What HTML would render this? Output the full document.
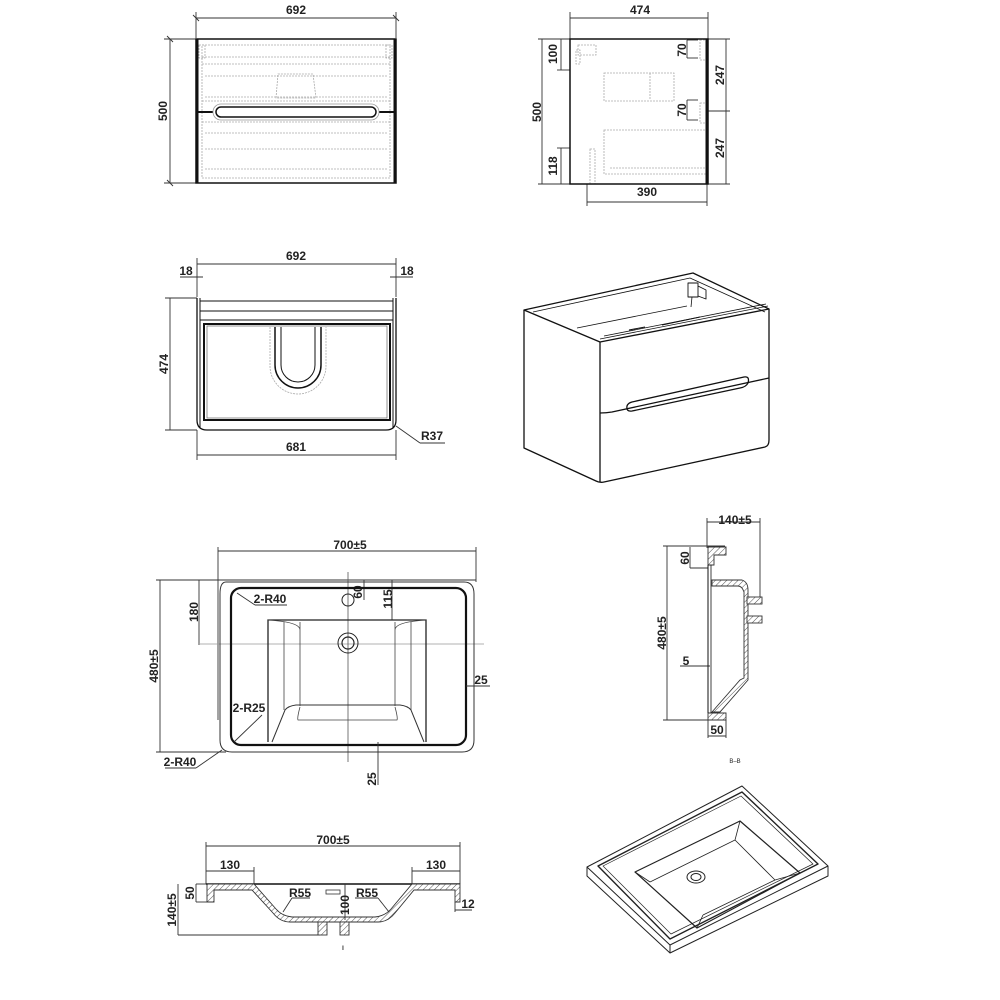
<!DOCTYPE html>
<html><head><meta charset="utf-8"><style>
html,body{margin:0;padding:0;background:#fff}
svg{display:block}
text{font-family:"Liberation Sans",sans-serif;font-weight:bold;font-size:12px;fill:#222}
.d{stroke:#333;stroke-width:0.9;fill:none}
.k{stroke:#111;fill:none}
.g{stroke:#aaa;stroke-width:0.8;fill:none;stroke-dasharray:2 1}
.h{stroke:#333;stroke-width:0.9;fill:url(#hat)}
</style></head><body>
<svg width="1000" height="1000" viewBox="0 0 1000 1000" xmlns="http://www.w3.org/2000/svg">
<defs><pattern id="hat" width="4" height="4" patternUnits="userSpaceOnUse" patternTransform="rotate(45)"><rect width="4" height="4" fill="#fff"/><line x1="0" y1="0" x2="0" y2="4" stroke="#555" stroke-width="1"/></pattern></defs>

<!-- VIEW 1 front -->
<g>
<line class="d" x1="196" y1="18" x2="396" y2="18"/><line class="d" x1="196" y1="12" x2="196" y2="38"/><line class="d" x1="396" y1="12" x2="396" y2="38"/>
<line class="d" x1="193" y1="15" x2="199" y2="21"/><line class="d" x1="393" y1="15" x2="399" y2="21"/>
<text x="296" y="14" text-anchor="middle">692</text>
<line class="d" x1="170" y1="39" x2="170" y2="183"/><line class="d" x1="164" y1="39" x2="196" y2="39"/><line class="d" x1="164" y1="183" x2="196" y2="183"/>
<line class="d" x1="167" y1="36" x2="173" y2="42"/><line class="d" x1="167" y1="180" x2="173" y2="186"/>
<text transform="translate(167,111) rotate(-90)" text-anchor="middle">500</text>
<rect class="g" x="202" y="45" width="188" height="133"/>
<line class="g" x1="202" y1="57" x2="390" y2="57"/><line class="g" x1="202" y1="64" x2="390" y2="64"/><line class="g" x1="205" y1="76" x2="387" y2="76"/><line class="g" x1="205" y1="97" x2="387" y2="97"/><line class="g" x1="202" y1="101" x2="390" y2="101"/>
<line class="g" x1="202" y1="122" x2="390" y2="122"/><line class="g" x1="205" y1="133" x2="387" y2="133"/><line class="g" x1="205" y1="149" x2="387" y2="149"/><line class="g" x1="205" y1="169" x2="387" y2="169"/>
<path class="g" d="M276 98 L278 74 L313 74 L316 98 Z"/><rect class="g" x="199" y="45" width="6" height="13"/><rect class="g" x="386" y="45" width="6" height="13"/>
<path d="M196 39 H396 V183 H196 Z" fill="none" stroke="#111" stroke-width="1.5"/>
<line x1="197" y1="39" x2="197" y2="183" stroke="#111" stroke-width="3"/><line x1="395" y1="39" x2="395" y2="183" stroke="#111" stroke-width="3"/>
<line x1="196" y1="112" x2="396" y2="112" stroke="#111" stroke-width="2"/>
<rect x="213" y="104" width="166" height="16" rx="8" fill="#fff" stroke="#999" stroke-width="0.8"/>
<rect x="216" y="107" width="160" height="10" rx="5" fill="#fff" stroke="#111" stroke-width="1.5"/>
</g>

<!-- VIEW 2 side -->
<g>
<line class="d" x1="570" y1="18" x2="708" y2="18"/><line class="d" x1="570" y1="12" x2="570" y2="39"/><line class="d" x1="708" y1="12" x2="708" y2="39"/>
<text x="640" y="14" text-anchor="middle">474</text>
<line class="d" x1="542" y1="39" x2="542" y2="184"/><line class="d" x1="538" y1="39" x2="570" y2="39"/><line class="d" x1="538" y1="184" x2="570" y2="184"/>
<text transform="translate(541,112) rotate(-90)" text-anchor="middle">500</text>
<line class="d" x1="561" y1="39" x2="561" y2="70"/><line class="d" x1="557" y1="70" x2="570" y2="70"/>
<text transform="translate(557,54) rotate(-90)" text-anchor="middle">100</text>
<line class="d" x1="561" y1="148" x2="561" y2="184"/><line class="d" x1="557" y1="148" x2="570" y2="148"/>
<text transform="translate(557,166) rotate(-90)" text-anchor="middle">118</text>
<line class="d" x1="587" y1="184" x2="587" y2="206"/><line class="d" x1="707" y1="184" x2="707" y2="206"/><line class="d" x1="587" y1="202" x2="707" y2="202"/>
<text x="647" y="196" text-anchor="middle">390</text>
<line class="d" x1="726" y1="39" x2="726" y2="184"/><line class="d" x1="708" y1="39" x2="730" y2="39"/><line class="d" x1="708" y1="111" x2="730" y2="111"/><line class="d" x1="708" y1="184" x2="730" y2="184"/>
<text transform="translate(724,75) rotate(-90)" text-anchor="middle">247</text>
<text transform="translate(724,148) rotate(-90)" text-anchor="middle">247</text>
<line class="d" x1="687" y1="40" x2="687" y2="58"/><line class="d" x1="687" y1="40" x2="698" y2="40"/><line class="d" x1="687" y1="58" x2="698" y2="58"/>
<text transform="translate(686,50) rotate(-90)" text-anchor="middle">70</text>
<line class="d" x1="687" y1="100" x2="687" y2="120"/><line class="d" x1="687" y1="100" x2="698" y2="100"/><line class="d" x1="687" y1="120" x2="698" y2="120"/>
<text transform="translate(686,110) rotate(-90)" text-anchor="middle">70</text>
<rect class="g" x="604" y="73" width="70" height="28"/><line class="g" x1="650" y1="73" x2="650" y2="99"/>
<rect class="g" x="604" y="130" width="104" height="44"/><line class="g" x1="610" y1="168" x2="708" y2="168"/>
<rect class="g" x="590" y="149" width="5" height="35"/><rect class="g" x="700" y="40" width="6" height="20"/><rect class="g" x="700" y="103" width="6" height="20"/>
<rect class="g" x="578" y="45" width="18" height="10"/><rect class="g" x="576" y="50" width="4" height="14"/>
<rect x="570" y="39" width="138" height="145" fill="none" stroke="#111" stroke-width="1.5"/>
<line x1="707" y1="39" x2="707" y2="184" stroke="#111" stroke-width="3"/>
</g>

<!-- VIEW 3 top -->
<g>
<line class="d" x1="197" y1="264" x2="396" y2="264"/><line class="d" x1="197" y1="258" x2="197" y2="297"/><line class="d" x1="396" y1="258" x2="396" y2="297"/>
<text x="296" y="260" text-anchor="middle">692</text>
<line class="d" x1="180" y1="277" x2="203" y2="277"/><line class="d" x1="390" y1="277" x2="413" y2="277"/>
<text x="186" y="275" text-anchor="middle">18</text><text x="407" y="275" text-anchor="middle">18</text>
<line class="d" x1="170" y1="298" x2="170" y2="430"/><line class="d" x1="165" y1="298" x2="197" y2="298"/><line class="d" x1="165" y1="430" x2="197" y2="430"/>
<text transform="translate(168,364) rotate(-90)" text-anchor="middle">474</text>
<line class="d" x1="197" y1="455" x2="396" y2="455"/><line class="d" x1="197" y1="430" x2="197" y2="460"/><line class="d" x1="396" y1="430" x2="396" y2="460"/>
<text x="296" y="451" text-anchor="middle">681</text>
<line class="d" x1="396" y1="426" x2="420" y2="443"/><line class="d" x1="420" y1="443" x2="445" y2="443"/>
<text x="432" y="440" text-anchor="middle">R37</text>
<path class="k" stroke-width="1.3" d="M197 298 V420 Q197 430 207 430 H386 Q396 430 396 420 V298"/>
<line class="k" x1="200" y1="298" x2="200" y2="428"/><line class="k" x1="393" y1="298" x2="393" y2="428"/>
<line class="k" x1="200" y1="301" x2="393" y2="301"/><line class="k" x1="200" y1="311" x2="393" y2="311"/><line class="k" x1="200" y1="320" x2="393" y2="320"/>
<rect x="204" y="324" width="186" height="96" fill="none" stroke="#111" stroke-width="2"/>
<rect x="207" y="326" width="180" height="92" fill="none" stroke="#666" stroke-width="0.7"/>
<path class="k" stroke-width="1.5" d="M275 327 V365 A23 23 0 0 0 321 365 V327"/>
<path class="k" stroke-width="1" d="M281 327 V365 A17 17 0 0 0 315 365 V327"/>
<path class="g" d="M270 327 V366 A28 28 0 0 0 326 366 V327"/>
</g>

<!-- VIEW 4 iso cabinet -->
<g fill="none" stroke="#111" stroke-width="1.3" stroke-linejoin="round">
<path d="M524 310 V448 L596 481 Q600 483 604 482 L765 447 Q769 446 769 440 V309"/>
<path d="M524 310 L693 273 L769 309 L600 342 Z"/>
<line x1="600" y1="342" x2="600" y2="482"/>
<path d="M533 312 L690 278 L765 312" stroke-width="0.8"/>
<path d="M577 328 L687 306" stroke-width="0.8"/><path d="M600 339 L768 306" stroke-width="0.8"/><path d="M604 336 L766 304" stroke-width="0.8"/>
<path d="M600 413 Q606 413 612 412 L769 378"/>
<rect x="688" y="283" width="10" height="14" stroke-width="0.9"/><path d="M698 286 L706 290 V299 L698 296" stroke-width="0.9"/>
<line x1="692" y1="297" x2="691" y2="307" stroke-width="0.8"/>
<path d="M629 330 L645 327 M662 325 L700 317" stroke-width="1"/>
<path d="M632 402 L744 377 Q750 376 748 383 Q746 387 740 388 L632 411 Q626 412 627 406 Q628 403 632 402 Z"/>
</g>

<!-- VIEW 5 basin top -->
<g>
<line class="d" x1="218" y1="551" x2="476" y2="551"/><line class="d" x1="218" y1="547" x2="218" y2="720"/><line class="d" x1="476" y1="547" x2="476" y2="582"/>
<text x="350" y="549" text-anchor="middle">700±5</text>
<line class="d" x1="160" y1="580" x2="160" y2="752"/><line class="d" x1="156" y1="580" x2="476" y2="580" stroke="#999"/><line class="d" x1="156" y1="752" x2="226" y2="752"/>
<text transform="translate(158,666) rotate(-90)" text-anchor="middle">480±5</text>
<line class="d" x1="199" y1="580" x2="199" y2="645"/>
<text transform="translate(198,612) rotate(-90)" text-anchor="middle">180</text>
<line x1="200" y1="644" x2="484" y2="644" stroke="#999" stroke-width="0.8"/>
<line x1="348" y1="572" x2="348" y2="762" stroke="#555" stroke-width="0.8"/>
<line class="d" x1="364" y1="580" x2="364" y2="600"/><text transform="translate(362,592) rotate(-90)" text-anchor="middle">60</text>
<line class="d" x1="392" y1="580" x2="392" y2="620"/><text transform="translate(392,599) rotate(-90)" text-anchor="middle">115</text>
<path d="M226 582 H464 Q474 582 474 594 V740 Q474 752 462 752 H232 Q220 752 220 740 V594 Q220 582 226 582 Z" fill="none" stroke="#333" stroke-width="1"/>
<rect x="231" y="588" width="235" height="157" rx="10" fill="none" stroke="#111" stroke-width="2.2"/>
<path d="M268 742 V620 H426 V742" fill="none" stroke="#222" stroke-width="1.3"/>
<path d="M284 622 V710 M300 622 V706 M395 622 V706 M411 622 V710 M268 620 Q300 622 300 630 M426 620 Q395 622 395 630" fill="none" stroke="#444" stroke-width="0.8"/>
<path d="M272 742 L285 710 Q288 706 296 705 H400 Q408 706 411 710 L424 742" fill="none" stroke="#333" stroke-width="1"/>
<path d="M300 707 Q297 718 298 720 H397 Q398 718 395 707" fill="none" stroke="#444" stroke-width="0.8"/>
<circle cx="348" cy="643" r="10" fill="none" stroke="#222" stroke-width="1"/><circle cx="348" cy="643" r="6" fill="none" stroke="#222" stroke-width="1.2"/>
<circle cx="348" cy="600" r="6" fill="none" stroke="#222" stroke-width="1"/>
<line class="d" x1="237" y1="593" x2="255" y2="605"/><line class="d" x1="255" y1="605" x2="287" y2="605"/><text x="270" y="603" text-anchor="middle">2-R40</text>
<line class="d" x1="234" y1="742" x2="262" y2="715"/><text x="249" y="712" text-anchor="middle">2-R25</text>
<line class="d" x1="222" y1="750" x2="196" y2="768"/><line class="d" x1="165" y1="768" x2="196" y2="768"/><text x="180" y="766" text-anchor="middle">2-R40</text>
<line class="d" x1="466" y1="686" x2="490" y2="686"/><text x="481" y="684" text-anchor="middle">25</text>
<line class="d" x1="378" y1="742" x2="378" y2="785"/><text transform="translate(376,779) rotate(-90)" text-anchor="middle">25</text>
</g>

<!-- VIEW 6 side section -->
<g>
<line class="d" x1="707" y1="522" x2="760" y2="522"/><line class="d" x1="707" y1="518" x2="707" y2="548"/><line class="d" x1="760" y1="518" x2="760" y2="600"/>
<text x="735" y="524" text-anchor="middle">140±5</text>
<line class="d" x1="667" y1="546" x2="667" y2="720"/><line class="d" x1="663" y1="546" x2="725" y2="546"/><line class="d" x1="663" y1="720" x2="725" y2="720"/>
<text transform="translate(666,633) rotate(-90)" text-anchor="middle">480±5</text>
<line class="d" x1="690" y1="547" x2="690" y2="568"/><line class="d" x1="690" y1="568" x2="708" y2="568"/>
<text transform="translate(689,558) rotate(-90)" text-anchor="middle">60</text>
<line class="d" x1="680" y1="666" x2="710" y2="666"/><text x="686" y="665" text-anchor="middle">5</text>
<line class="d" x1="708" y1="720" x2="708" y2="738"/><line class="d" x1="726" y1="720" x2="726" y2="738"/><line class="d" x1="708" y1="736" x2="726" y2="736"/>
<text x="717" y="734" text-anchor="middle">50</text>
<path class="h" d="M708 547 H726 V555 H714 V565 H708 Z"/>
<path class="h" d="M708 713 H726 V720 H708 Z"/>
<path class="h" d="M712 580 H742 Q748 582 748 590 V680 L720 712 H712 L740 680 L744 678 V592 Q742 586 738 586 H712 Z"/>
<rect class="h" x="747" y="597" width="15" height="7"/><rect class="h" x="747" y="616" width="15" height="7"/>
<line class="k" x1="708" y1="565" x2="708" y2="713" stroke-width="1"/><line class="k" x1="711" y1="565" x2="711" y2="713" stroke-width="0.8"/>
<text x="735" y="763" text-anchor="middle" style="font-size:6px;font-weight:normal">B–B</text>
</g>

<!-- VIEW 7 bottom section -->
<g>
<line class="d" x1="206" y1="846" x2="460" y2="846"/><line class="d" x1="206" y1="842" x2="206" y2="884"/><line class="d" x1="460" y1="842" x2="460" y2="884"/>
<text x="333" y="844" text-anchor="middle">700±5</text>
<line class="d" x1="206" y1="871" x2="254" y2="871"/><line class="d" x1="254" y1="867" x2="254" y2="884"/><text x="230" y="869" text-anchor="middle">130</text>
<line class="d" x1="412" y1="871" x2="460" y2="871"/><line class="d" x1="412" y1="867" x2="412" y2="884"/><text x="436" y="869" text-anchor="middle">130</text>
<line class="d" x1="196" y1="884" x2="207" y2="884"/><line class="d" x1="196" y1="884" x2="196" y2="902"/><line class="d" x1="196" y1="902" x2="207" y2="902"/>
<text transform="translate(194,893) rotate(-90)" text-anchor="middle">50</text>
<line class="d" x1="178" y1="884" x2="178" y2="935"/><line class="d" x1="178" y1="935" x2="320" y2="935"/>
<text transform="translate(176,910) rotate(-90)" text-anchor="middle">140±5</text>
<line x1="206" y1="884" x2="460" y2="884" stroke="#111" stroke-width="1.5"/>
<path class="h" d="M207 884 H254 L276 909 Q282 916 292 917 H375 Q385 916 391 909 L412 884 H460 V902 H455 V890 H414 L395 913 Q388 922 378 922 H290 Q280 922 273 913 L252 890 H214 V902 H207 Z"/>
<rect class="h" x="318" y="922" width="9" height="13"/><rect class="h" x="340" y="922" width="9" height="13"/>
<rect x="326" y="890" width="14" height="4" fill="none" stroke="#333" stroke-width="0.8"/>
<line class="d" x1="345" y1="884" x2="345" y2="920"/><text transform="translate(349,905) rotate(-90)" text-anchor="middle">100</text>
<line class="d" x1="283" y1="912" x2="292" y2="898"/><line class="d" x1="292" y1="898" x2="310" y2="898"/><text x="300" y="897" text-anchor="middle">R55</text>
<line class="d" x1="389" y1="912" x2="378" y2="898"/><line class="d" x1="355" y1="898" x2="378" y2="898"/><text x="367" y="897" text-anchor="middle">R55</text>
<line class="d" x1="455" y1="902" x2="455" y2="912"/><line class="d" x1="455" y1="910" x2="472" y2="910"/><text x="468" y="908" text-anchor="middle">12</text>
<text x="343" y="950" text-anchor="middle" style="font-size:6px">I</text>
</g>

<!-- VIEW 8 iso basin -->
<g fill="none" stroke="#222" stroke-width="1" stroke-linejoin="round">
<path d="M587 867 L742 786 L828 866 L828 876 L670 953 L587 876 Z"/>
<path d="M587 867 L670 945 L828 866 M670 945 V953"/>
<path d="M598 866 L742 792 L818 864 L670 939 Z" stroke-width="1.4"/>
<path d="M603 866 L741 796 L813 864 L671 934 Z" stroke-width="0.7"/>
<path d="M635 872 L740 821 L800 873 L697 928 Z" stroke-width="1.2"/>
<path d="M650 882 L735 840 L775 880 L703 915 M735 840 L740 821 M775 880 L800 873 M650 882 L635 872 M703 915 L697 928" stroke-width="0.8"/>
<ellipse cx="696" cy="877" rx="9" ry="6"/><ellipse cx="696" cy="877" rx="5" ry="3.5"/>
</g>
</svg>
</body></html>
